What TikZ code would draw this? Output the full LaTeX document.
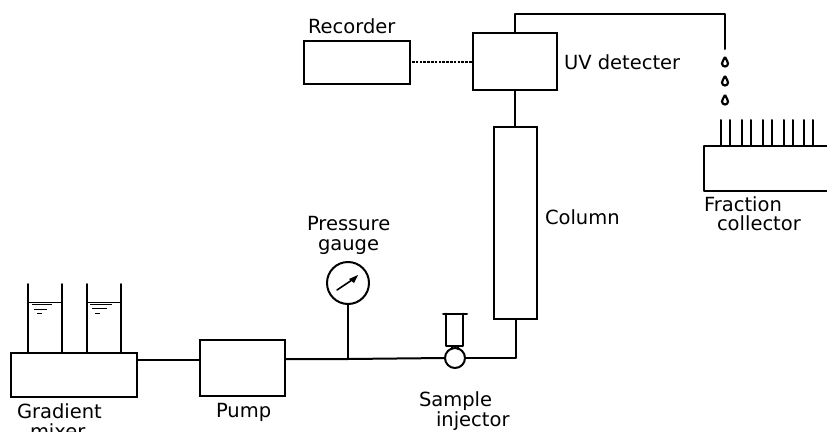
\documentclass[tikz,border=0pt]{standalone}
\usepackage{fontspec}
\setmainfont{DejaVu Sans}
\begin{document}
\begin{tikzpicture}[x=1pt,y=-1pt,
  line/.style={line width=2pt,black,line cap=round,line join=round},
  thin line/.style={line width=1pt,black},
  unit/.style={draw=black,line width=2pt,fill=none,inner sep=0pt,outer sep=0pt,anchor=north west},
  lab/.style={inner sep=0pt,outer sep=0pt,anchor=base west,font=\fontsize{19.5}{22}\selectfont,text=black}]
\useasboundingbox (0,0) rectangle (827,431);
\clip (0,0) rectangle (827,431);
% boxes
\node[unit,minimum width=126pt,minimum height=44pt] (mixer) at (11,353) {};
\node[unit,minimum width=85pt,minimum height=56pt] (pump) at (200,340) {};
\node[unit,minimum width=106pt,minimum height=43pt] (recorder) at (304,41) {};
\node[unit,minimum width=84pt,minimum height=57pt] (uv) at (473,33) {};
\node[unit,minimum width=43pt,minimum height=192pt] (column) at (494,127) {};
\node[circle,draw=black,line width=2pt,inner sep=0pt,minimum size=42pt,outer sep=0pt] (gauge) at (348,283) {};
\node[circle,draw=black,line width=2pt,inner sep=0pt,minimum size=20pt,outer sep=0pt] (valve) at (455,358) {};
\coordinate (t1) at (348,359);
\coordinate (t2) at (516,358);
\coordinate (o1) at (515,14);
\coordinate (o2) at (725,14);
\coordinate (o3) at (725,49);
\coordinate (rd) at (412,62);
\coordinate (uvl) at (473,62);
% connectors
\draw[line] (137,360) -- (200,360);
\draw[line] (285,359) -- (t1) -- (valve.west);
\draw[line] (valve.east) -- (t2) -- (516,319);
\draw[line] (gauge.south) -- (t1);
\draw[line] (515,90) -- (515,127);
\draw[line] (515,33) -- (o1) -- (o2) -- (o3);
\draw[line width=1.6pt,black,dash pattern=on 2.6pt off 1.2pt] (rd) -- (uvl);
% gauge needle
\draw[line,line width=1.6pt] (337,290) -- (352,280);
\fill[black] (349,279) -- (358,275) -- (354,283) -- cycle;
% syringe
\draw[line] (443,313.5) -- (467,313.5);
\draw[line] (446,313.5) -- (446,346) -- (463,346) -- (463,313.5);
\draw[line] (452,346) -- (452,349);
\draw[line] (458,346) -- (458,349);
% mixer tubes
\foreach \x in {28,62,87,121} \draw[line] (\x,284) -- (\x,353);
\draw[thin line] (28,302) -- (62,302);
\draw[thin line] (87,302) -- (121,302);
\draw[thin line] (32,304.5) -- (52,304.5) (34,309) -- (47,309) (37,313) -- (42,313);
\draw[thin line] (90,304) -- (112,304) (92,308.5) -- (107,308.5) (95,313) -- (100,313);
% drops
\foreach \y in {62,81,100}{
  \draw[black,line width=2.2pt,line join=round] (725,\y-5) .. controls (723.5,\y-2) and (722,\y) .. (722,\y+1.5)
    .. controls (722,\y+5.5) and (728,\y+5.5) .. (728,\y+1.5)
    .. controls (728,\y) and (726.5,\y-2) .. (725,\y-5);
}
% fraction collector
\draw[line] (827,145.5) -- (704,145.5) -- (704,191) -- (827,191);
\foreach \x in {721,730,742,751,763,772,784,793,804,813} \draw[line] (\x,120) -- (\x,145);
% labels
\node[lab] (l1) at (17,418) {Gradient};
\node[lab] (l2) at (30,438) {mixer};
\node[lab] (l3) at (216,417) {Pump};
\node[lab] (l4) at (307,230) {Pressure};
\node[lab] (l5) at (318,250) {gauge};
\node[lab] (l6) at (419,406) {Sample};
\node[lab] (l7) at (436,426) {injector};
\node[lab] (l8) at (545,224) {Column};
\node[lab] (l9) at (564,69) {UV detecter};
\node[lab] (l10) at (308,33) {Recorder};
\node[lab] (l11) at (704,211) {Fraction};
\node[lab] (l12) at (717,230) {collector};
\end{tikzpicture}
\end{document}
